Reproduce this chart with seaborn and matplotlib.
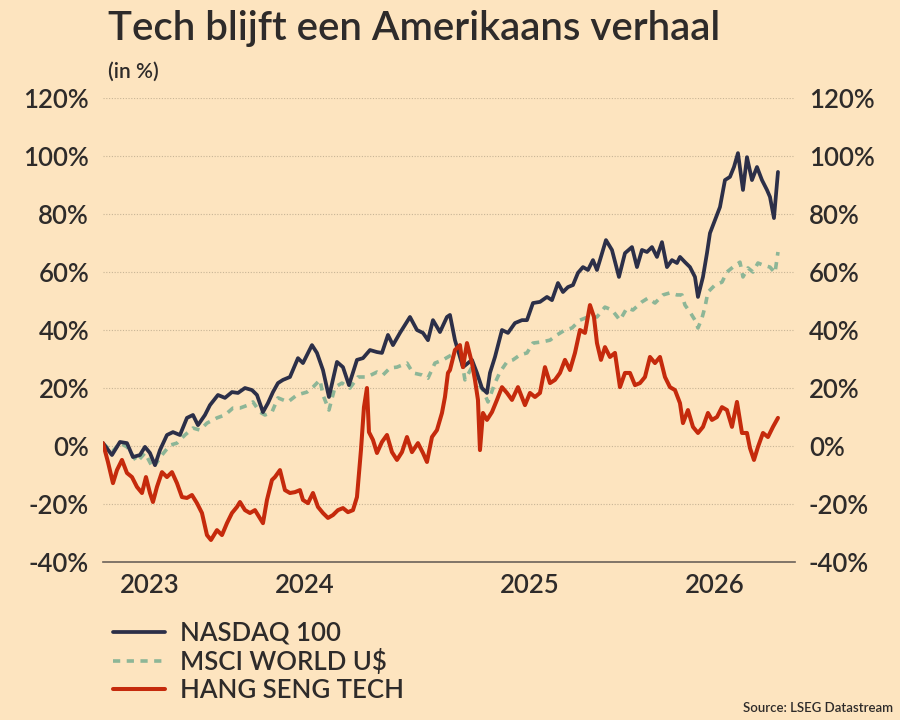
import matplotlib
matplotlib.use("Agg")
import matplotlib.pyplot as plt
import seaborn as sns
import pandas as pd

# time position (chart units) and % change
nasdaq_t = [0, 9, 17, 24, 30, 37, 42, 47, 52, 57, 64, 70, 77, 84, 90, 95, 102, 107, 115, 122,
            129, 135, 142, 149, 154, 160, 165, 170, 175, 180, 187, 195, 200, 209, 214, 220, 226,
            234, 240, 246, 254, 260, 267, 274, 279, 285, 290, 297, 307, 314, 320, 325, 330, 337,
            344, 347, 352, 360, 369, 374, 379, 384, 387, 392, 399, 405, 412, 419, 424, 430, 437,
            444, 449, 455, 460, 465, 470, 475, 480, 485, 490, 494, 497, 503, 509, 516, 522, 529,
            534, 539, 544, 549, 554, 559, 564, 569, 574, 577, 582, 587, 592, 595, 600, 604, 607,
            612, 617, 622, 627, 631, 635, 640, 644, 649, 654, 659, 664, 667, 671, 675]
nasdaq = [1.0, -3.1, 1.4, 1.0, -3.8, -3.1, -0.3, -2.4, -6.6, -1.4, 3.8, 4.8, 3.8, 9.7, 10.7, 7.2,
          10.7, 14.1, 17.6, 16.6, 18.6, 18.3, 20.0, 19.3, 17.6, 11.7, 14.8, 18.6, 21.7, 22.8, 23.8,
          30.3, 28.6, 34.8, 32.1, 26.2, 16.9, 29.0, 27.2, 21.0, 29.7, 30.3, 33.1, 32.4, 32.1, 38.3,
          34.8, 39.0, 44.5, 40.0, 39.0, 36.5, 43.4, 39.3, 44.5, 45.2, 36.5, 27.2, 29.7, 25.2, 20.0,
          18.3, 25.2, 30.7, 40.0, 39.0, 42.4, 43.4, 43.4, 49.3, 49.7, 51.4, 50.3, 56.2, 53.1, 54.8,
          55.5, 59.7, 61.7, 60.7, 64.1, 60.7, 64.1, 71.0, 67.6, 58.3, 66.5, 68.6, 61.7, 67.6, 66.9,
          68.6, 65.2, 70.3, 61.7, 64.1, 63.1, 65.2, 63.4, 61.7, 58.3, 51.4, 58.3, 66.5, 73.4, 77.9,
          82.4, 91.7, 92.8, 96.2, 101.0, 88.3, 99.6, 91.7, 96.2, 91.7, 88.3, 85.9, 78.6, 94.5]

msci_t = [0, 9, 17, 24, 34, 42, 50, 59, 67, 74, 82, 90, 97, 104, 114, 122, 130, 137, 145, 150,
          157, 162, 169, 175, 185, 194, 204, 210, 217, 220, 226, 232, 239, 247, 255, 264, 274, 280,
          287, 294, 304, 310, 319, 325, 332, 340, 345, 357, 362, 369, 375, 380, 385, 392, 397, 404,
          410, 417, 424, 430, 439, 447, 454, 462, 469, 477, 485, 494, 502, 509, 517, 524, 530, 539,
          545, 552, 560, 567, 574, 579, 582, 587, 592, 595, 599, 602, 605, 612, 619, 624, 630, 637,
          640, 645, 650, 655, 660, 667, 672, 675]
msci = [1.0, -2.1, 1.0, -0.3, -5.5, -2.4, -7.6, -3.1, 0.3, 1.0, 3.8, 6.2, 5.5, 7.9, 9.7, 10.7,
        13.1, 13.1, 14.1, 15.2, 11.7, 10.7, 11.7, 16.6, 15.2, 17.6, 18.6, 20.3, 22.8, 17.6, 12.4,
        20.3, 21.7, 20.0, 23.8, 23.8, 25.5, 24.5, 26.9, 27.2, 28.6, 25.2, 24.5, 23.4, 28.6, 29.7,
        30.7, 33.1, 22.8, 27.2, 21.7, 19.3, 15.2, 21.7, 25.5, 29.0, 29.7, 31.4, 32.1, 35.5, 35.9,
        36.5, 38.3, 40.0, 40.7, 43.4, 44.5, 44.5, 47.9, 46.9, 43.4, 47.6, 46.9, 49.7, 51.0, 49.3,
        52.1, 52.8, 52.1, 52.1, 48.6, 46.2, 43.4, 40.7, 44.1, 47.9, 53.1, 55.5, 56.5, 60.0, 61.7,
        63.4, 58.3, 61.4, 60.0, 63.1, 62.4, 61.7, 59.7, 66.9]

hst_t = [0, 5, 10, 14, 19, 24, 29, 34, 39, 43, 47, 50, 54, 59, 64, 69, 74, 79, 84, 89, 94, 99,
         104, 108, 114, 119, 124, 129, 134, 137, 142, 147, 152, 155, 160, 164, 169, 172, 177, 182,
         187, 192, 197, 200, 205, 210, 215, 220, 225, 230, 235, 240, 245, 250, 254, 258, 261, 264,
         266, 270, 274, 279, 284, 289, 294, 299, 304, 309, 315, 320, 324, 329, 334, 339, 342, 345,
         347, 352, 357, 360, 364, 369, 372, 375, 377, 380, 384, 389, 394, 399, 404, 409, 415, 422,
         427, 432, 437, 442, 447, 452, 457, 462, 467, 472, 477, 482, 487, 491, 494, 498, 502, 507,
         512, 517, 522, 527, 532, 537, 542, 547, 552, 557, 562, 567, 572, 577, 580, 585, 590, 595,
         600, 605, 609, 614, 619, 624, 629, 634, 639, 644, 647, 651, 655, 660, 665, 670, 675]
hst = [1.0, -5.5, -12.8, -8.3, -4.8, -9.3, -10.7, -14.1, -16.2, -10.7, -16.2, -19.3, -14.1, -9.0,
       -10.7, -9.0, -12.8, -17.6, -17.9, -16.9, -19.7, -23.1, -30.7, -32.4, -29.0, -30.7, -26.6,
       -23.1, -21.0, -19.3, -22.1, -23.1, -22.1, -23.8, -26.6, -18.6, -11.7, -10.7, -8.3, -15.2,
       -16.2, -15.9, -15.2, -18.6, -19.7, -16.2, -21.0, -23.1, -24.8, -23.8, -22.1, -21.4, -22.8,
       -22.1, -17.6, -1.4, 13.4, 20.0, 4.8, 2.1, -2.4, 1.4, 3.8, -2.1, -4.8, -2.1, 3.1, -2.1, 1.0,
       -2.4, -5.5, 3.1, 5.5, 11.4, 16.9, 25.2, 26.2, 33.1, 34.8, 27.2, 35.5, 28.6, 22.8, 15.9,
       -1.4, 11.4, 9.0, 11.7, 15.9, 20.3, 18.3, 15.9, 20.3, 14.1, 18.3, 16.9, 18.3, 27.2, 21.7,
       22.8, 25.2, 29.7, 26.2, 32.1, 40.0, 39.0, 48.6, 44.5, 35.5, 29.7, 34.1, 30.7, 32.1, 20.3,
       25.2, 25.2, 21.0, 21.7, 23.8, 30.7, 28.6, 30.7, 23.8, 20.3, 19.3, 14.8, 7.9, 12.4, 6.6, 4.5,
       6.6, 11.4, 9.0, 10.0, 13.4, 12.4, 6.6, 15.2, 4.5, 4.5, -0.7, -4.8, -0.3, 4.5, 3.1, 6.6, 9.7]

series_names = ["NASDAQ 100", "MSCI WORLD U$", "HANG SENG TECH"]
year_pos = [47, 202, 427, 612]
year_labels = ["2023", "2024", "2025", "2026"]
y_ticks = [-40, -20, 0, 20, 40, 60, 80, 100, 120]

bg = "#fde4bf"
ink = "#2e2b2a"
colors = {"NASDAQ 100": "#2c2f48", "MSCI WORLD U$": "#8db697", "HANG SENG TECH": "#c52a0c"}

df = pd.concat([
    pd.DataFrame({"t": nasdaq_t, "pct": nasdaq, "index": series_names[0]}),
    pd.DataFrame({"t": msci_t, "pct": msci, "index": series_names[1]}),
    pd.DataFrame({"t": hst_t, "pct": hst, "index": series_names[2]}),
])

sns.set_theme(style="white")
plt.rcParams["font.family"] = ["Lato", "DejaVu Sans"]
plt.rcParams["font.weight"] = "semibold"

fig = plt.figure(figsize=(9, 7.2), dpi=100, facecolor=bg)
ax = fig.add_axes([0.1144, 0.2194, 0.7689, 0.6445])
ax.set_facecolor(bg)

# MSCI underneath, then nasdaq, then hang seng on top
for name, lw in [("MSCI WORLD U$", 2.6), ("NASDAQ 100", 2.7), ("HANG SENG TECH", 2.9)]:
    sub = df[df["index"] == name]
    sns.lineplot(data=sub, x="t", y="pct", ax=ax, color=colors[name], linewidth=lw,
                 linestyle="--" if name == "MSCI WORLD U$" else "-", label=name,
                 estimator=None, sort=False)
for line in ax.get_lines():
    if line.get_label() == "MSCI WORLD U$":
        line.set_dashes((2.0, 1.8))

ax.set_xlim(0, 692)
ax.set_ylim(-40, 120)
ax.set_yticks(y_ticks)
ax.set_yticklabels([f"{v}%" for v in y_ticks])
ax.set_xticks(year_pos)
ax.set_xticklabels(year_labels)
ax.set_xlabel("")
ax.set_ylabel("")
ax.tick_params(axis="y", labelleft=True, labelright=True, left=False, right=False,
               length=0, labelsize=18.5, colors=ink, pad=10)
ax.tick_params(axis="x", bottom=False, length=0, labelsize=18.5, colors=ink, pad=8)
for v in y_ticks[1:]:
    ax.axhline(v, color="#c8b596", linewidth=0.8, linestyle=(0, (1, 1.5)), zorder=0)
for s in ["top", "left", "right"]:
    ax.spines[s].set_visible(False)
ax.spines["bottom"].set_color("#6b625a")
ax.spines["bottom"].set_linewidth(1.2)

handles, labels = ax.get_legend_handles_labels()
order = [labels.index(n) for n in series_names]
ax.get_legend().remove()
leg = fig.legend([handles[i] for i in order], [labels[i] for i in order],
                 loc="upper left", bbox_to_anchor=(0.126, 0.138), frameon=False,
                 fontsize=18.5, handlelength=2.0, handletextpad=0.6, labelspacing=0.12,
                 borderaxespad=0, borderpad=0)
for txt in leg.get_texts():
    txt.set_color(ink)

fig.text(0.12, 0.96, "Tech blijft een Amerikaans verhaal", fontsize=29, color=ink,
         fontweight="semibold", va="center", ha="left")
fig.text(0.12, 0.9, "(in %)", fontsize=15, color=ink, va="center", ha="left")
fig.text(0.992, 0.017, "Source: LSEG Datastream", fontsize=9.5, color=ink, ha="right",
         va="center")

fig.savefig("out.png", dpi=100, facecolor=bg)
